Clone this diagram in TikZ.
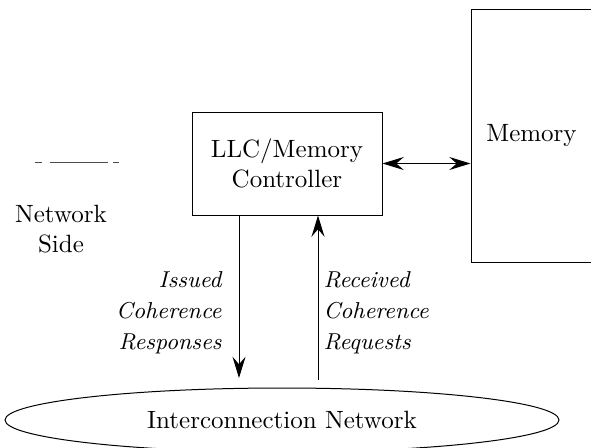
\documentclass[tikz,border=0pt]{standalone}
\usepackage{tikz}
\usetikzlibrary{shapes,arrows.meta,positioning}
\tikzstyle{block} = [draw, line width=0.4pt, text centered, align=center, inner sep=0pt]
\tikzstyle{netbox} = [draw, ellipse, line width=0.4pt, inner sep=0pt, minimum width=221.6pt, minimum height=25.6pt]
\tikzstyle{label} = [align=center, inner sep=0pt]
\tikzstyle{slant} = [inner sep=0pt, font=\fontsize{9.2}{12.4}\selectfont\itshape]
\tikzstyle{arrow} = [draw, line width=0.4pt, -{Stealth[length=8.5pt,width=5.2pt,inset=3pt]}]
\tikzstyle{twoway} = [draw, line width=0.4pt, {Stealth[length=8.5pt,width=5.2pt,inset=3pt]}-{Stealth[length=8.5pt,width=5.2pt,inset=3pt]}]
\tikzstyle{dashline} = [draw, line width=0.4pt, color=black!70, dash pattern=on 2.8pt off 3.2pt on 23.2pt off 2pt on 2.8pt]
\newcommand{\block}[4]{node (#1) [block, minimum width=#2, minimum height=#3] {#4}}

\begin{document}
\begin{tikzpicture}[x=0.4pt,y=-0.4pt]
\useasboundingbox (0,0) rectangle (591,447);
\path (287,163.5) \block{c1}{76pt}{41.2pt}{LLC/Memory\\Controller};
\path (531.5,135.5) \block{m1}{48.4pt}{101.2pt}{Memory};
\path (282,420) node (n1) [netbox] {Interconnection Network};

\path [twoway] (c1.east) -- (c1.east -| m1.west);

\coordinate (a1) at (239,378);
\coordinate (a2) at (318,380);
\path [arrow] (c1.south -| a1) -- (a1);
\path [arrow] (a2) -- (a2 |- c1.south);

\path (222,313) node (l1) [slant, align=right, anchor=east] {Issued\\Coherence\\Responses};
\path (323,313) node (l2) [slant, align=left, anchor=west] {Received\\Coherence\\Requests};

\coordinate (d1) at (35,162);
\coordinate (d2) at (119,162);
\path [dashline] (d1) -- (d2);
\path (61,229) node (s1) [label] {Network\\Side};
\end{tikzpicture}
\end{document}
